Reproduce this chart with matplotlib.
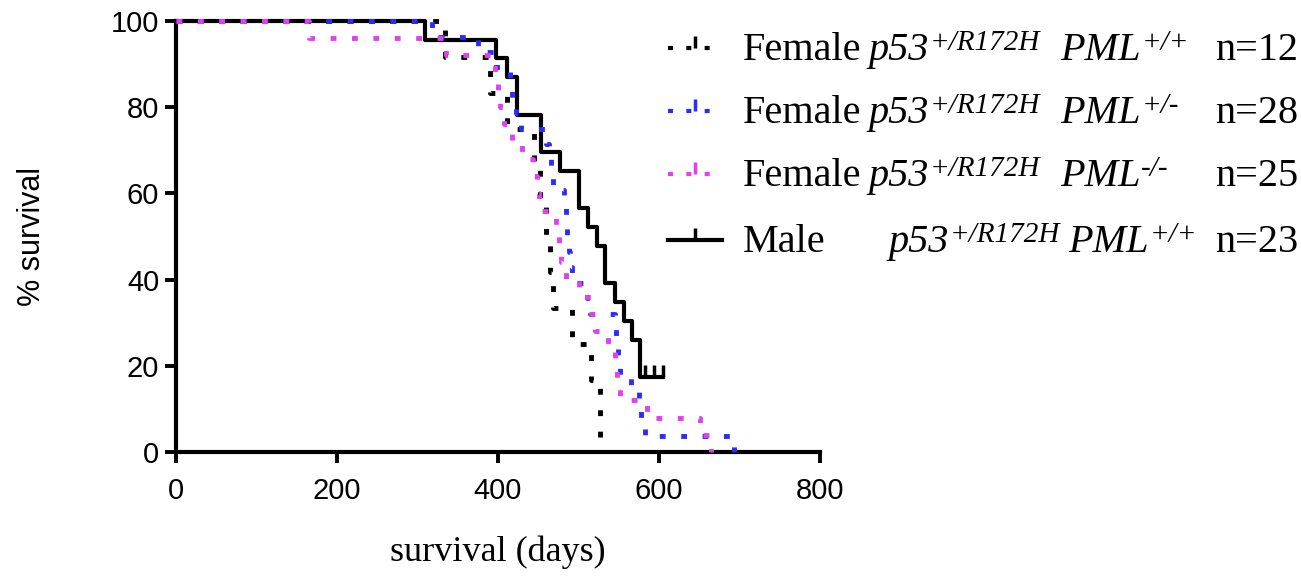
import matplotlib.pyplot as plt
from matplotlib.lines import Line2D

# Kaplan-Meier steps (days, % survival)
male_days = [0, 309, 398, 411, 423, 454, 477, 500, 512, 523, 533, 545, 556, 566, 576, 605]
male_surv = [100, 95.7, 91.3, 87.0, 78.3, 69.6, 65.2, 56.5, 52.2, 47.8, 39.1, 34.8, 30.4, 26.1, 17.4, 17.4]
male_censor_days = [583, 594, 605]
male_censor_surv = [17.4, 17.4, 17.4]

f_wt_days = [0, 334, 390, 411, 445, 452, 460, 465, 468, 492, 515, 527]
f_wt_surv = [100, 91.7, 83.3, 75.0, 66.7, 58.3, 50.0, 41.7, 33.3, 25.0, 16.7, 0]

f_het_days = [0, 318, 375, 398, 415, 418, 422, 428, 460, 463, 466, 468, 482, 484, 486,
              488, 490, 492, 510, 514, 545, 547, 549, 552, 565, 575, 578, 582, 693]
f_het_surv = [100, 96.4, 92.9, 89.3, 85.7, 82.1, 78.6, 75.0, 71.4, 67.9, 64.3, 60.7, 57.1, 53.6, 50.0,
              46.4, 42.9, 39.3, 35.7, 32.1, 28.6, 25.0, 21.4, 17.9, 14.3, 10.7, 7.1, 3.6, 0]

f_ko_days = [0, 165, 335, 396, 400, 402, 408, 418, 430, 443, 449, 451, 472, 476, 478, 485,
             500, 515, 520, 537, 545, 548, 551, 585, 651, 665]
f_ko_surv = [100, 96, 92, 88, 84, 80, 76, 72, 68, 64, 60, 56, 52, 48, 44, 40,
             36, 32, 28, 24, 20, 16, 12, 8, 4, 0]

# legend text pieces
sexes = ['Female', 'Female', 'Female', 'Male']
pml = ['+/+', '+/-', '-/-', '+/+']
counts = ['n=12', 'n=28', 'n=25', 'n=23']
colors = ['black', '#2b2bff', '#e040f0', 'black']

W, H = 1301, 581
dot = (0, (1.2, 3.2))

fig = plt.figure(figsize=(W / 100, H / 100), dpi=100)
ax = fig.add_axes([176 / W, 1 - 452 / H, 644 / W, 431 / H])

ax.step(male_days, male_surv, where='post', color='black', lw=3, clip_on=False, zorder=3)
ax.plot(male_censor_days, male_censor_surv, ls='none', marker=2, ms=9, mew=2.5,
        color='black', clip_on=False, zorder=3)
ax.step(f_wt_days, f_wt_surv, where='post', color=colors[0], lw=3.5, ls=dot, clip_on=False, zorder=4)
ax.step(f_het_days, f_het_surv, where='post', color=colors[1], lw=3.5, ls=dot, clip_on=False, zorder=4)
ax.step(f_ko_days, f_ko_surv, where='post', color=colors[2], lw=3.5, ls=dot, clip_on=False, zorder=4)

ax.set_xlim(0, 800)
ax.set_ylim(0, 100)
ax.set_xticks([0, 200, 400, 600, 800])
ax.set_yticks([0, 20, 40, 60, 80, 100])
for s in ['top', 'right']:
    ax.spines[s].set_visible(False)
for s in ['left', 'bottom']:
    ax.spines[s].set_linewidth(3)
ax.tick_params(direction='out', length=8, width=2.8, labelsize=21)
ax.tick_params(axis='x', pad=10)
ax.tick_params(axis='y', pad=4)
for t in ax.get_xticklabels() + ax.get_yticklabels():
    t.set_family('Liberation Sans')

ax.set_ylabel('% survival', fontsize=22, family='Liberation Sans')
ax.yaxis.set_label_coords(-0.2, 0.5)
ax.set_xlabel('survival (days)', fontsize=26, family='Liberation Serif', labelpad=22)

# legend drawn piece by piece so the superscripts sit like the original
serif = 'Liberation Serif'
renderer = fig.canvas.get_renderer()


def right_edge(t):
    return t.get_window_extent(renderer).x1


baselines = [60, 123, 186, 252]
for i in range(4):
    yb = baselines[i]
    fy = 1 - yb / H
    fsup = 1 - (yb - 10) / H
    hy = 1 - (yb - 12) / H
    ls = '-' if i == 3 else dot
    fig.add_artist(Line2D([668 / W, 722 / W], [hy, hy], transform=fig.transFigure,
                          color=colors[i], lw=3, ls=ls))
    fig.add_artist(Line2D([695 / W], [hy], transform=fig.transFigure, color=colors[i],
                          marker=2, ms=9, mew=2.5))
    fig.text(743 / W, fy, sexes[i], fontsize=29, family=serif, va='baseline')
    px = 888 if i == 3 else 868
    t = fig.text(px / W, fy, 'p53', fontsize=29, family=serif, style='italic', va='baseline')
    t = fig.text((right_edge(t) + 1) / W, fsup, '+/R172H', fontsize=21, family=serif,
                 style='italic', va='baseline')
    gap = 8 if i == 3 else 20
    t = fig.text((right_edge(t) + gap) / W, fy, 'PML', fontsize=29, family=serif,
                 style='italic', va='baseline')
    fig.text((right_edge(t) + 1) / W, fsup, pml[i], fontsize=21, family=serif,
             style='italic', va='baseline')
    fig.text(1215 / W, fy, counts[i], fontsize=29, family=serif, va='baseline')

fig.savefig('out.png', dpi=100)
